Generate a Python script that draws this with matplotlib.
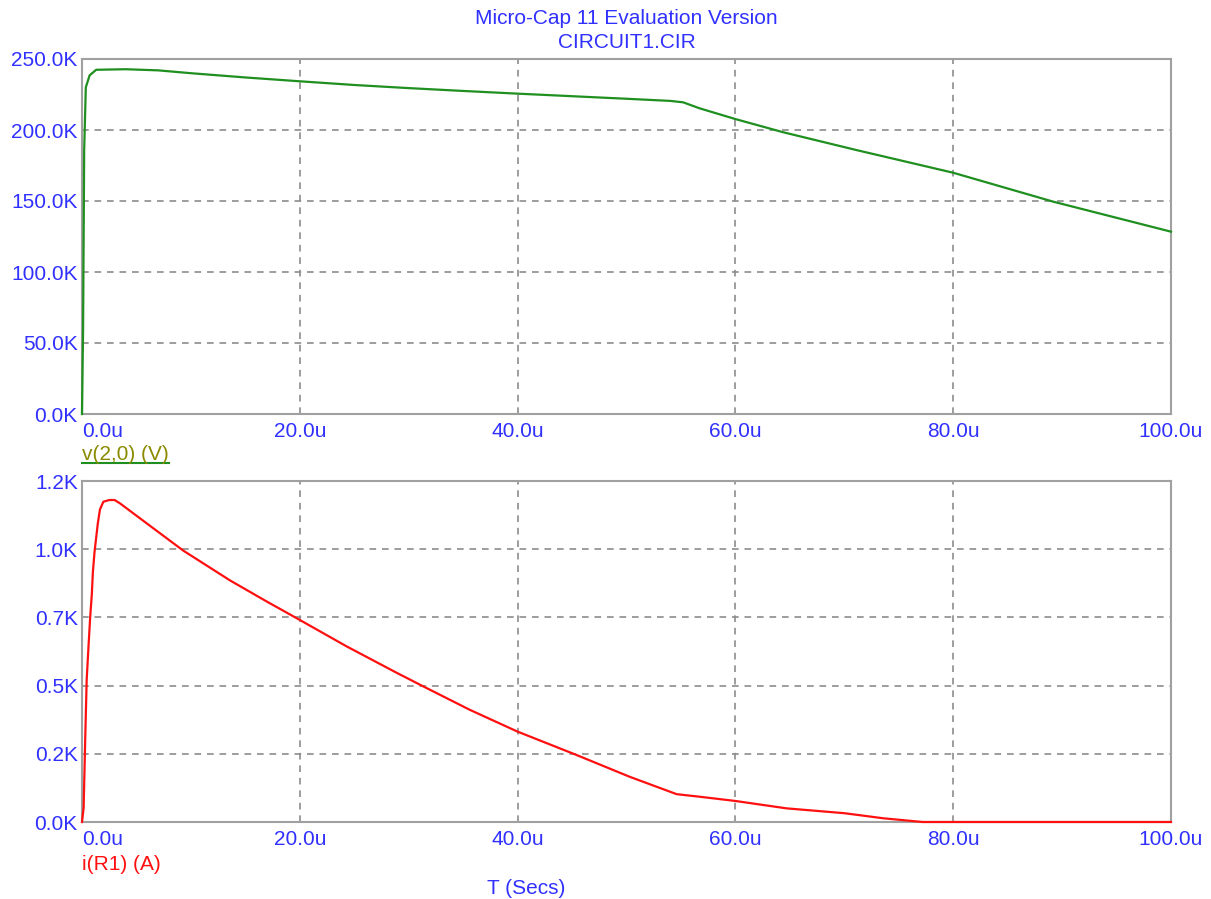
import matplotlib
matplotlib.use("Agg")
import matplotlib.pyplot as plt
from matplotlib.lines import Line2D

plt.rcParams['font.family'] = ['Liberation Sans', 'DejaVu Sans']

# ---- data (time in microseconds, values in K) ----
v_time = [0, 0.1, 0.2, 0.35, 0.7, 1.3, 4, 7, 10, 15, 20, 25, 30, 35, 40, 45, 50, 54, 55.2,
          56.7, 60, 64.4, 71.1, 78, 80, 89.2, 100]
v_vals = [0, 60, 186, 230, 238.5, 242.4, 242.8, 242.0, 240.0, 237.0, 234.3, 231.7, 229.5,
          227.5, 225.6, 223.8, 222.0, 220.5, 219.5, 215.3, 207.7, 198.4, 185.9, 173.5, 169.9,
          149.5, 128.4]

i_time = [0, 0.15, 0.3, 0.43, 0.6, 0.75, 0.9, 1.0, 1.15, 1.3, 1.45, 1.65, 1.96, 2.5, 3.0, 3.5,
          5.94, 9.3, 13.6, 16.96, 20, 24.3, 28.9, 31.3, 35.6, 40, 45.4, 50.3, 54.6, 56.7, 60,
          64.7, 70, 73.6, 77.2, 100]
i_vals = [0, 0.05, 0.3, 0.5, 0.62, 0.72, 0.8, 0.88, 0.95, 1.0, 1.05, 1.10, 1.127, 1.133, 1.133,
          1.121, 1.051, 0.955, 0.850, 0.776, 0.711, 0.618, 0.525, 0.478, 0.395, 0.318, 0.236,
          0.159, 0.098, 0.089, 0.074, 0.048, 0.031, 0.013, 0, 0]

x_ticks = [0, 20, 40, 60, 80, 100]
x_labels = ['0.0u', '20.0u', '40.0u', '60.0u', '80.0u', '100.0u']
v_ticks = [0, 50, 100, 150, 200, 250]
v_labels = ['0.0K', '50.0K', '100.0K', '150.0K', '200.0K', '250.0K']
i_ticks = [0, 0.24, 0.48, 0.72, 0.96, 1.2]
i_labels = ['0.0K', '0.2K', '0.5K', '0.7K', '1.0K', '1.2K']

title_lines = ['Micro-Cap 11 Evaluation Version', 'CIRCUIT1.CIR']
v_name = 'v(2,0) (V)'
i_name = 'i(R1) (A)'
x_name = 'T (Secs)'

# ---- styling ----
W, H = 1211, 899
BLUE = '#3030ff'
GREEN = '#1f8f1f'
RED = '#ff1010'
OLIVE = '#8a8a00'
FS = 15

fig = plt.figure(figsize=(W / 100, H / 100), dpi=100)
fig.patch.set_facecolor('white')

def px_rect(l, t, r, b):
    return [l / W, 1 - b / H, (r - l) / W, (b - t) / H]

ax1 = fig.add_axes(px_rect(82, 59, 1171, 414))
ax2 = fig.add_axes(px_rect(82, 481, 1171, 822))

def style(ax, yticks, ylabels, ymax):
    ax.set_xlim(0, 100)
    ax.set_ylim(0, ymax)
    ax.set_xticks(x_ticks)
    ax.set_xticklabels(x_labels)
    ax.set_yticks(yticks)
    ax.set_yticklabels(ylabels)
    ax.tick_params(length=0, labelsize=FS, labelcolor=BLUE)
    ax.tick_params(axis='x', pad=6)
    ax.tick_params(axis='y', pad=3)
    for s in ax.spines.values():
        s.set_color('#a0a0a0')
        s.set_linewidth(1.5)
    ax.grid(True, color='#8c8c8c', linestyle=(0, (4, 3.5)), linewidth=1.2)
    lbls = ax.get_xticklabels()
    lbls[0].set_ha('left')

style(ax1, v_ticks, v_labels, 250)
style(ax2, i_ticks, i_labels, 1.2)

ax1.plot(v_time, v_vals, color=GREEN, linewidth=1.6, clip_on=False, zorder=5)
ax2.plot(i_time, i_vals, color=RED, linewidth=1.6, clip_on=False, zorder=5)

fig.text(626.5 / W, 1 - 19 / H, title_lines[0], ha='center', va='center', color=BLUE, fontsize=FS)
fig.text(626.5 / W, 1 - 43 / H, title_lines[1], ha='center', va='center', color=BLUE, fontsize=FS)

vt = fig.text(82 / W, 1 - 454 / H, v_name, ha='left', va='center', color=OLIVE, fontsize=FS)
fig.text(82 / W, 1 - 864 / H, i_name, ha='left', va='center', color=RED, fontsize=FS)
fig.text(526 / W, 1 - 888 / H, x_name, ha='center', va='center', color=BLUE, fontsize=FS)

fig.canvas.draw()
bb = vt.get_window_extent()
fig.add_artist(Line2D([bb.x0 / W, bb.x1 / W], [1 - 463 / H, 1 - 463 / H],
                      transform=fig.transFigure, color=GREEN, linewidth=1.5))

fig.savefig('out.png', dpi=100, facecolor='white')
